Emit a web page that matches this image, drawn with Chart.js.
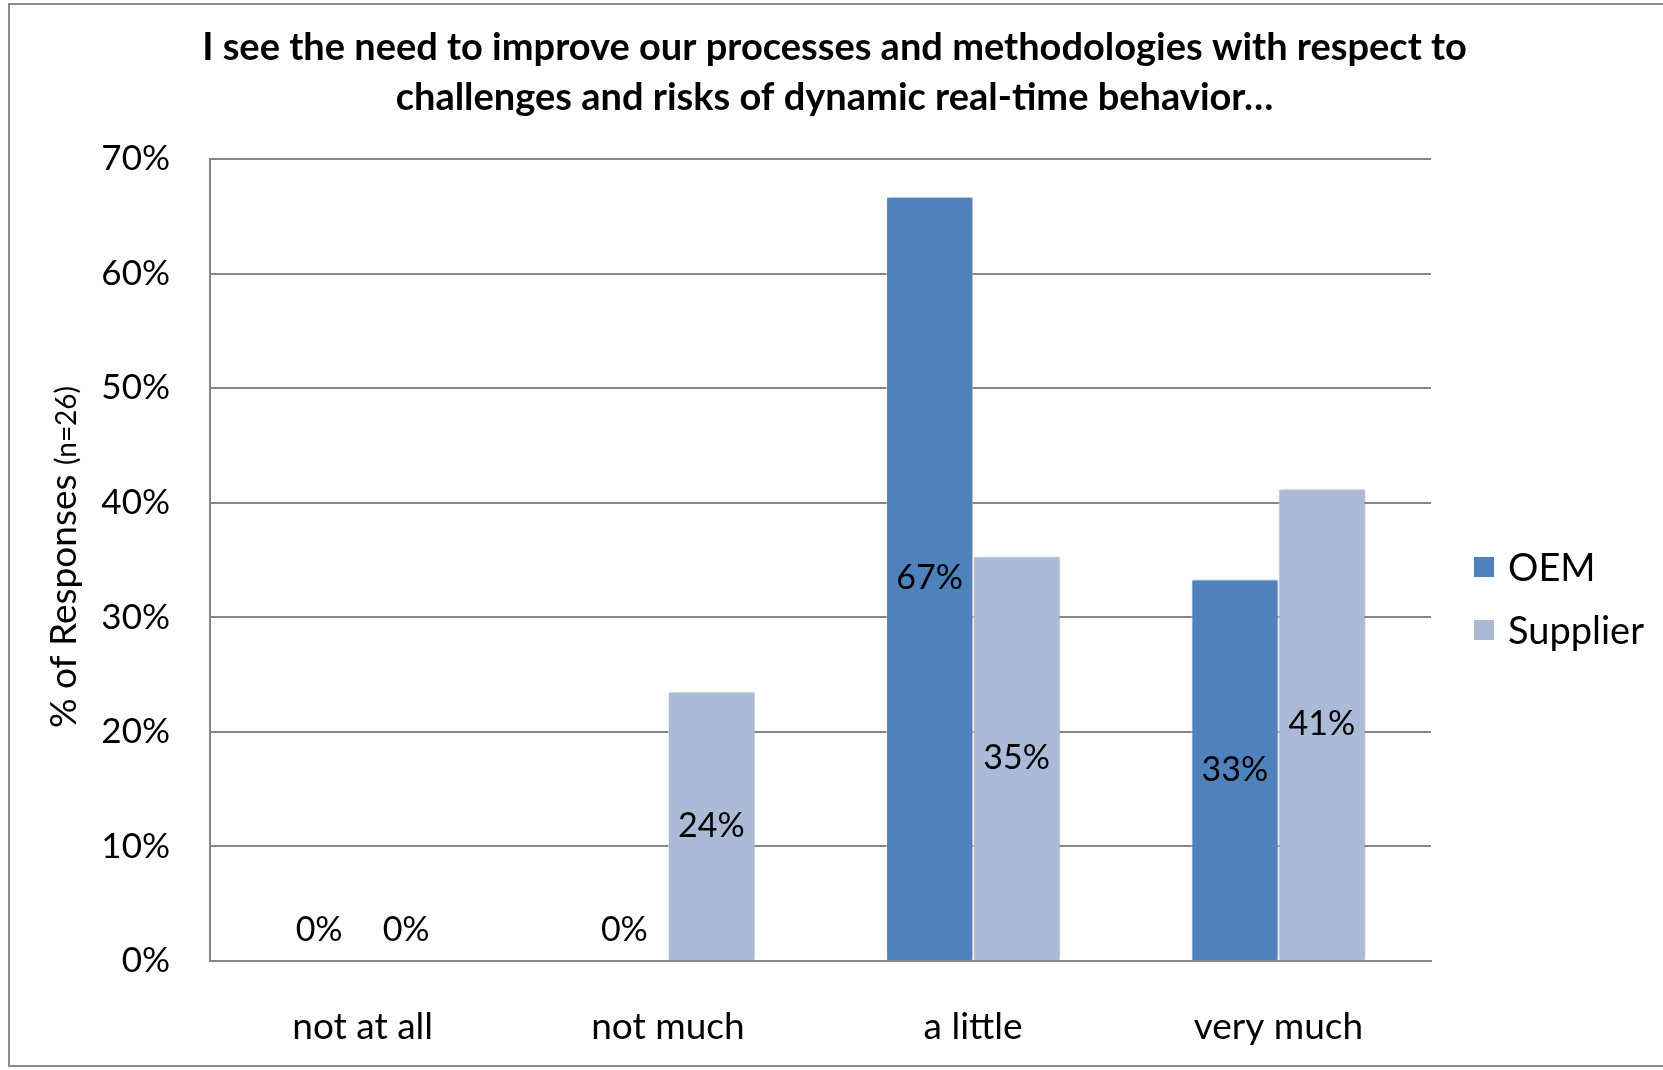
<!DOCTYPE html>
<html>
<head>
<meta charset="utf-8">
<script src="https://cdn.jsdelivr.net/npm/chart.js@4"></script>
<style>
  html, body { margin: 0; padding: 0; background: #fff; }
  canvas { display: block; }
</style>
</head>
<body>
<canvas id="chartKebutuhan" width="1663" height="1070"></canvas>
<script>
const kategori = ['not at all', 'not much', 'a little', 'very much'];
const nilaiOEM = [0, 0, 66.7, 33.3];
const nilaiSupplier = [0, 23.5, 35.3, 41.2];
const judul = ['I see the need to improve our processes and methodologies with respect to',
  'challenges and risks of dynamic real-time behavior…'];
const tickY = [0, 10, 20, 30, 40, 50, 60, 70];

const HURUF = 'Lato, "Open Sans", sans-serif';

// bingkai abu-abu di luar
const bingkai = {
  id: 'bingkai',
  beforeDraw(chart) {
    const c = chart.ctx;
    c.save();
    c.fillStyle = '#fff';
    c.fillRect(0, 0, chart.width, chart.height);
    c.strokeStyle = '#8c8c8c';
    c.lineWidth = 2;
    c.strokeRect(9, 4, chart.width + 20, chart.height - 8);
    c.restore();
  }
};

// judul di tengah kanvas (bukan di tengah area plot)
const judulAtas = {
  id: 'judulAtas',
  afterDraw(chart) {
    const c = chart.ctx;
    c.save();
    c.font = 'bold 38px ' + HURUF;
    c.fillStyle = '#000';
    c.textAlign = 'center';
    c.textBaseline = 'middle';
    judul.forEach((baris, i) => c.fillText(baris, chart.width / 2 + 3, 48 + i * 50));
    c.restore();
  }
};

// bayangan tipis di sisi batang
const bayangan = {
  id: 'bayangan',
  beforeDatasetsDraw(chart) {
    const c = chart.ctx;
    c.save();
    c.shadowColor = 'rgba(0,0,0,0.28)';
    c.shadowBlur = 4;
    c.shadowOffsetX = 2;
    c.shadowOffsetY = 0;
  },
  afterDatasetsDraw(chart) {
    chart.ctx.restore();
  }
};

// label persen di tengah batang
const labelNilai = {
  id: 'labelNilai',
  afterDatasetsDraw(chart) {
    const c = chart.ctx;
    c.save();
    c.font = '34px ' + HURUF;
    c.fillStyle = '#000';
    c.textAlign = 'center';
    c.textBaseline = 'middle';
    chart.data.datasets.forEach((ds, i) => {
      chart.getDatasetMeta(i).data.forEach((bar, j) => {
        const v = ds.data[j];
        const y = v === 0 ? bar.base - 31 : (bar.y + bar.base) / 2;
        c.fillText(Math.round(v) + '%', bar.x, y);
      });
    });
    c.restore();
  }
};

// legenda di kanan, sedikit di bawah tengah
const legendaKanan = {
  id: 'legendaKanan',
  afterDraw(chart) {
    const c = chart.ctx;
    const x = chart.chartArea.right + 43;
    c.save();
    c.font = '38px ' + HURUF;
    c.textBaseline = 'middle';
    chart.data.datasets.forEach((ds, i) => {
      const y = 567 + i * 63;
      c.fillStyle = ds.backgroundColor;
      c.fillRect(x, y - 10, 20, 20);
      c.fillStyle = '#000';
      c.fillText(ds.label, x + 34, y + 2);
    });
    c.restore();
  }
};

// judul sumbu y dengan "(n=26)" lebih kecil
const judulSumbuY = {
  id: 'judulSumbuY',
  afterDraw(chart) {
    const area = chart.chartArea;
    const c = chart.ctx;
    const teks1 = '% of Responses ';
    const teks2 = '(n=26)';
    c.save();
    c.translate(64, (area.top + area.bottom) / 2 - 3);
    c.rotate(-Math.PI / 2);
    c.fillStyle = '#000';
    c.textBaseline = 'alphabetic';
    c.font = '37px ' + HURUF;
    const w1 = c.measureText(teks1).width;
    c.font = '28px ' + HURUF;
    const w2 = c.measureText(teks2).width;
    const x0 = -(w1 + w2) / 2;
    c.font = '37px ' + HURUF;
    c.fillText(teks1, x0, 12);
    c.font = '28px ' + HURUF;
    c.fillText(teks2, x0 + w1, 12);
    c.restore();
  }
};

new Chart(document.getElementById('chartKebutuhan').getContext('2d'), {
  type: 'bar',
  data: {
    labels: kategori,
    datasets: [{
      label: 'OEM',
      data: nilaiOEM,
      backgroundColor: '#4f81bd',
      borderColor: 'rgba(255,255,255,0.7)',
      borderWidth: 1,
      categoryPercentage: 0.57,
      barPercentage: 1
    }, {
      label: 'Supplier',
      data: nilaiSupplier,
      backgroundColor: '#aabad7',
      borderColor: 'rgba(255,255,255,0.7)',
      borderWidth: 1,
      categoryPercentage: 0.57,
      barPercentage: 1
    }]
  },
  options: {
    responsive: false,
    animation: false,
    layout: { padding: { left: 0, right: 232, top: 159, bottom: 0 } },
    plugins: {
      title: { display: false },
      legend: { display: false },
      tooltip: { enabled: false }
    },
    scales: {
      x: {
        grid: { display: false, drawTicks: false },
        border: { display: true, color: '#868686', width: 2 },
        ticks: { color: '#000', font: { family: HURUF, size: 37 }, padding: 44 },
        afterFit(s) { s.height = 109; }
      },
      y: {
        min: 0,
        max: 70,
        afterBuildTicks(s) { s.ticks = tickY.map(v => ({ value: v })); },
        grid: { color: '#868686', lineWidth: 2, drawTicks: false },
        border: { display: true, color: '#868686', width: 2 },
        ticks: {
          color: '#000',
          font: { family: HURUF, size: 35 },
          padding: 40,
          callback: v => v + '%'
        },
        afterFit(s) { s.width = 210; }
      }
    }
  },
  plugins: [bingkai, bayangan, labelNilai, legendaKanan, judulSumbuY, judulAtas]
});
</script>
</body>
</html>
